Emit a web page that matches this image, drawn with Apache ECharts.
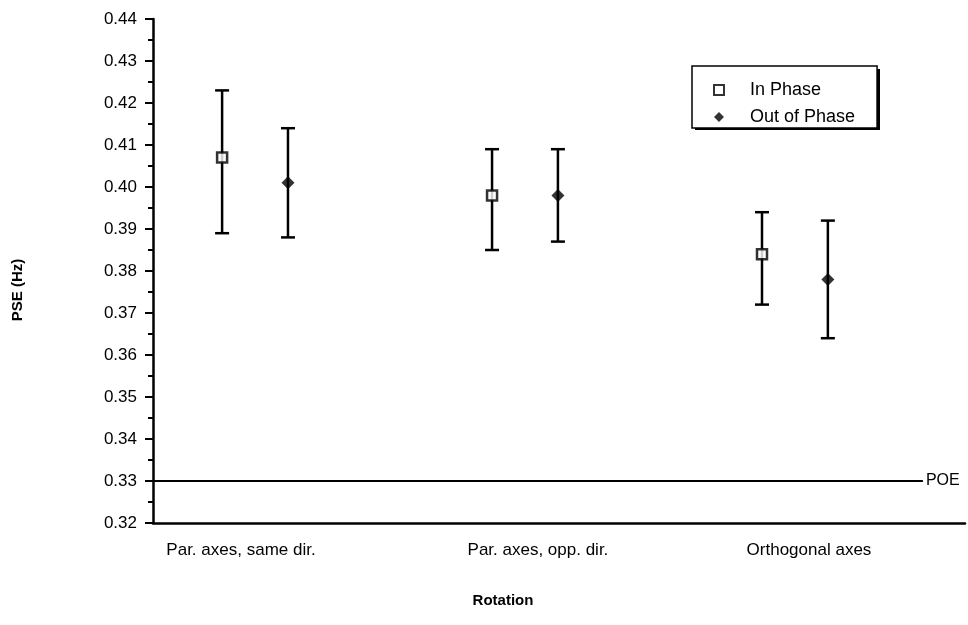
<!DOCTYPE html>
<html>
<head>
<meta charset="utf-8">
<script src="https://cdn.jsdelivr.net/npm/echarts@6/dist/echarts.min.js"></script>
<style>
  html, body { margin: 0; padding: 0; background: #fff; }
  #chart { width: 968px; height: 625px; }
</style>
</head>
<body>
<div id="chart"></div>
<script>
// data
const categories = ["Par. axes, same dir.", "Par. axes, opp. dir.", "Orthogonal axes"];
const inPhase = [0.407, 0.398, 0.384];
const inPhaseHigh = [0.423, 0.409, 0.394];
const inPhaseLow = [0.389, 0.385, 0.372];
const outPhase = [0.401, 0.398, 0.378];
const outPhaseHigh = [0.414, 0.409, 0.392];
const outPhaseLow = [0.388, 0.387, 0.364];
const poeValue = 0.33;
const yMin = 0.32, yMax = 0.44, yStep = 0.01;

const FONT = "'Liberation Sans', Arial, Helvetica, sans-serif";
const xMin = 0.622, xMax = 3.63;   // axis span around groups 1..3
const off = 0.122;                 // half distance between the two markers of a group
const labelPos = [0.948, 2.048, 3.052];
const poeEnd = 3.474;

function pts(vals, dx) {
  return vals.map((v, i) => [i + 1 + dx, v]);
}
function bars(lo, hi, dx) {
  return lo.map((v, i) => [i + 1 + dx, v, hi[i]]);
}

function renderErr(params, api) {
  const x = api.value(0);
  const lo = api.coord([x, api.value(1)]);
  const hi = api.coord([x, api.value(2)]);
  const cap = 7;
  const style = { stroke: "#000", lineWidth: 2.5 };
  return {
    type: "group",
    children: [
      { type: "line", shape: { x1: lo[0], y1: lo[1], x2: hi[0], y2: hi[1] }, style: style },
      { type: "line", shape: { x1: hi[0] - cap, y1: hi[1], x2: hi[0] + cap, y2: hi[1] }, style: style },
      { type: "line", shape: { x1: lo[0] - cap, y1: lo[1], x2: lo[0] + cap, y2: lo[1] }, style: style }
    ]
  };
}

const chart = echarts.init(document.getElementById("chart"));
chart.setOption({
  animation: false,
  backgroundColor: "#fff",
  textStyle: { fontFamily: FONT, color: "#000" },
  grid: { left: 153, right: 3, top: 19, bottom: 102 },
  // drop shadow of the legend box
  graphic: [{
    type: "rect",
    left: 695, top: 69,
    shape: { width: 185, height: 61 },
    style: { fill: "#000" },
    z: 0
  }],
  legend: {
    data: ["In Phase", "Out of Phase"],
    orient: "vertical",
    left: 692,
    top: 66,
    padding: [15, 22, 2, 21],
    itemGap: 9,
    itemWidth: 10,
    itemHeight: 10,
    textStyle: { fontSize: 18, color: "#000", fontFamily: FONT, padding: [0, 0, 0, 21] },
    borderColor: "#000",
    borderWidth: 1.5,
    backgroundColor: "#fff",
    z: 5
  },
  xAxis: {
    type: "value",
    min: xMin,
    max: xMax,
    name: "Rotation",
    nameLocation: "middle",
    nameGap: 70,
    nameTextStyle: { fontSize: 15, fontWeight: "bold", color: "#000", padding: [0, 112, 0, 0] },
    axisLine: { lineStyle: { color: "#000", width: 2.5 } },
    axisTick: { show: false },
    splitLine: { show: false },
    axisLabel: {
      customValues: labelPos,
      margin: 19,
      fontSize: 17,
      color: "#000",
      formatter: (v) => categories[Math.round(v) - 1]
    }
  },
  yAxis: {
    type: "value",
    min: yMin,
    max: yMax,
    interval: yStep,
    name: "PSE (Hz)",
    nameLocation: "middle",
    nameGap: 128,
    nameTextStyle: { fontSize: 15, fontWeight: "bold", color: "#000", padding: [0, 38, 0, 0] },
    axisLine: { show: true, lineStyle: { color: "#000", width: 2.5 } },
    axisTick: { show: true, length: 8, lineStyle: { color: "#000", width: 2 } },
    minorTick: { show: true, splitNumber: 2, length: 5, lineStyle: { color: "#000", width: 2 } },
    splitLine: { show: false },
    axisLabel: {
      margin: 16,
      fontSize: 17,
      color: "#000",
      formatter: (v) => v.toFixed(2)
    }
  },
  series: [
    {
      name: "In Phase err",
      type: "custom",
      renderItem: renderErr,
      encode: { x: 0, y: [1, 2] },
      data: bars(inPhaseLow, inPhaseHigh, -off),
      z: 2,
      markLine: {
        silent: true,
        symbol: "none",
        lineStyle: { color: "#000", width: 2, type: "solid" },
        label: { show: true, position: "end", formatter: "POE", color: "#000", fontSize: 16, distance: 3 },
        data: [[{ coord: [xMin, poeValue] }, { coord: [poeEnd, poeValue] }]]
      }
    },
    {
      name: "Out of Phase err",
      type: "custom",
      renderItem: renderErr,
      encode: { x: 0, y: [1, 2] },
      data: bars(outPhaseLow, outPhaseHigh, off),
      z: 2
    },
    {
      name: "In Phase",
      type: "scatter",
      symbol: "rect",
      symbolSize: 10,
      itemStyle: { color: "#fff", borderColor: "#000", borderWidth: 2.5 },
      data: pts(inPhase, -off),
      z: 3
    },
    {
      name: "Out of Phase",
      type: "scatter",
      symbol: "diamond",
      symbolSize: 13,
      itemStyle: { color: "#000" },
      data: pts(outPhase, off),
      z: 3
    }
  ]
});
</script>
</body>
</html>
